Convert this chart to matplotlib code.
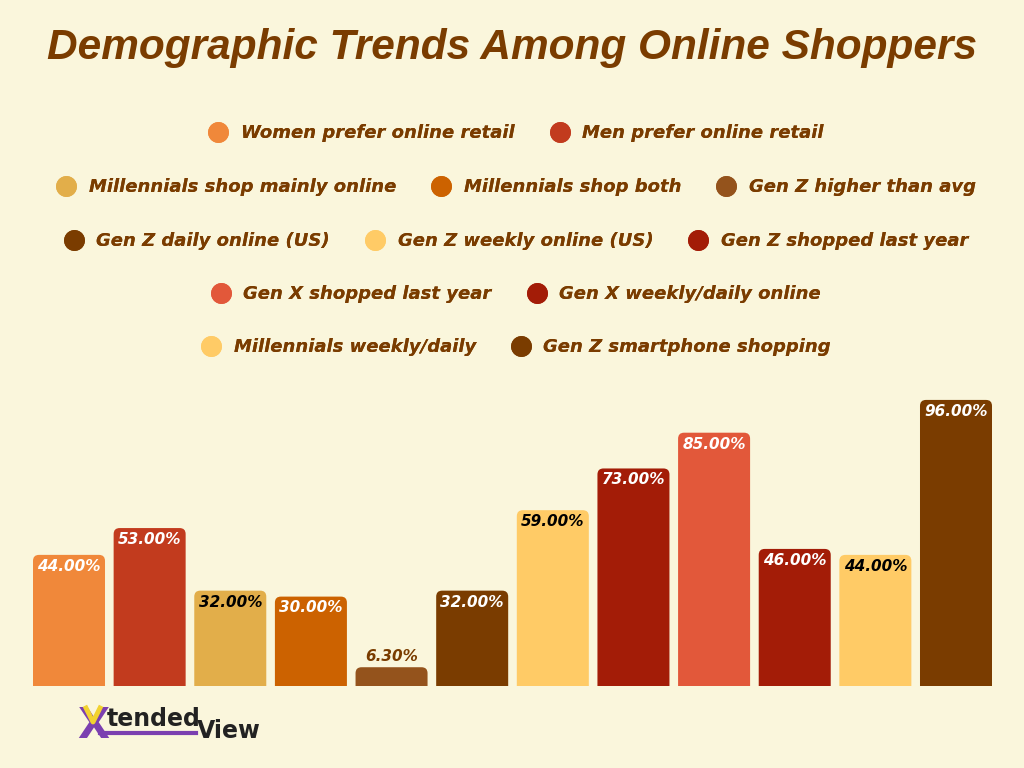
import matplotlib.pyplot as plt
from matplotlib.patches import FancyBboxPatch
from matplotlib.lines import Line2D

labels = ["Women prefer online retail", "Men prefer online retail",
          "Millennials shop mainly online", "Millennials shop both",
          "Gen Z higher than avg", "Gen Z daily online (US)",
          "Gen Z weekly online (US)", "Gen Z shopped last year",
          "Gen X shopped last year", "Gen X weekly/daily online",
          "Millennials weekly/daily", "Gen Z smartphone shopping"]
values = [44.0, 53.0, 32.0, 30.0, 6.3, 32.0, 59.0, 73.0, 85.0, 46.0, 44.0, 96.0]
colors = ["#F0883A", "#C23B1E", "#E2AE4A", "#CC6200", "#94531C", "#7A3C00",
          "#FFCB66", "#A31C07", "#E2583A", "#A31C07", "#FFCB66", "#7A3C00"]
label_colors = ["white", "white", "black", "white", "#7A3C00", "white",
                "black", "white", "white", "white", "black", "white"]
legend_rows = [[0, 1], [2, 3, 4], [5, 6, 7], [8, 9], [10, 11]]

bg = "#FAF6DC"
brown = "#7A3C00"
font = "DejaVu Sans"

fig = plt.figure(figsize=(10.24, 7.68), dpi=100, facecolor=bg)
ax = fig.add_axes([33 / 1024, 82 / 768, 959 / 1024, 298 / 768])
ax.set_facecolor(bg)

w = 0.893
bars = ax.bar(range(len(values)), values, width=w, color=colors)
ax.set_xlim(-w / 2, len(values) - 1 + w / 2)
ax.set_ylim(0, 100)
ax.axis("off")

# rounded tops
px_x = 959 / (len(values) - 1 + w)
px_y = 298 / 100
for b in bars:
    b.set_visible(False)
    r = 6 / px_x
    p = FancyBboxPatch((b.get_x(), b.get_y() - 3), b.get_width(), b.get_height() + 3,
                       boxstyle=f"round,pad=0,rounding_size={r}",
                       mutation_aspect=px_x / px_y, facecolor=b.get_facecolor(),
                       edgecolor="none")
    ax.add_patch(p)

for i, v in enumerate(values):
    if v < 15:
        ax.text(i, v + 1.2, f"{v:.2f}%", ha="center", va="bottom", color=label_colors[i],
                fontsize=11, fontweight="bold", fontstyle="italic", family=font)
    else:
        ax.text(i, v - 1.3, f"{v:.2f}%", ha="center", va="top", color=label_colors[i],
                fontsize=11, fontweight="bold", fontstyle="italic", family=font)

fig.text(0.5, 1 - 48 / 768, "Demographic Trends Among Online Shoppers", ha="center",
         va="center", fontsize=30.5, fontweight="bold", fontstyle="italic",
         color=brown, family="Liberation Sans")

row_y = [133, 187, 241, 294, 347]
for row, yy in zip(legend_rows, row_y):
    handles = [Line2D([], [], marker="o", linestyle="none", markersize=15,
                      markerfacecolor=colors[i], markeredgecolor="none") for i in row]
    leg = fig.legend(handles, [labels[i] for i in row], loc="center",
                     bbox_to_anchor=(0.5, 1 - yy / 768), ncol=len(row), frameon=False,
                     handletextpad=0.25, columnspacing=1.5,
                     prop={"family": font, "weight": "bold", "style": "italic", "size": 13})
    for t in leg.get_texts():
        t.set_color(brown)
    fig.add_artist(leg)

# logo
fig.text(77 / 1024, 1 - 738 / 768, "X", fontsize=30, fontweight="heavy",
         color="#7B3FB0", family="DejaVu Sans", va="baseline", ha="left")
fig.add_artist(Line2D([86 / 1024, 93 / 1024, 100 / 1024],
                      [1 - 708 / 768, 1 - 722 / 768, 1 - 708 / 768],
                      color="#F2D230", linewidth=3.5, zorder=5))
fig.text(107 / 1024, 1 - 726 / 768, "tended", fontsize=17, fontweight="bold",
         color="#222222", family="DejaVu Sans", va="baseline", ha="left")
fig.text(197 / 1024, 1 - 738 / 768, "View", fontsize=17, fontweight="bold",
         color="#222222", family="DejaVu Sans", va="baseline", ha="left")
fig.add_artist(Line2D([100 / 1024, 196 / 1024], [1 - 733 / 768, 1 - 733 / 768],
                      color="#7B3FB0", linewidth=3))

fig.savefig("out.png", dpi=100, facecolor=bg)
